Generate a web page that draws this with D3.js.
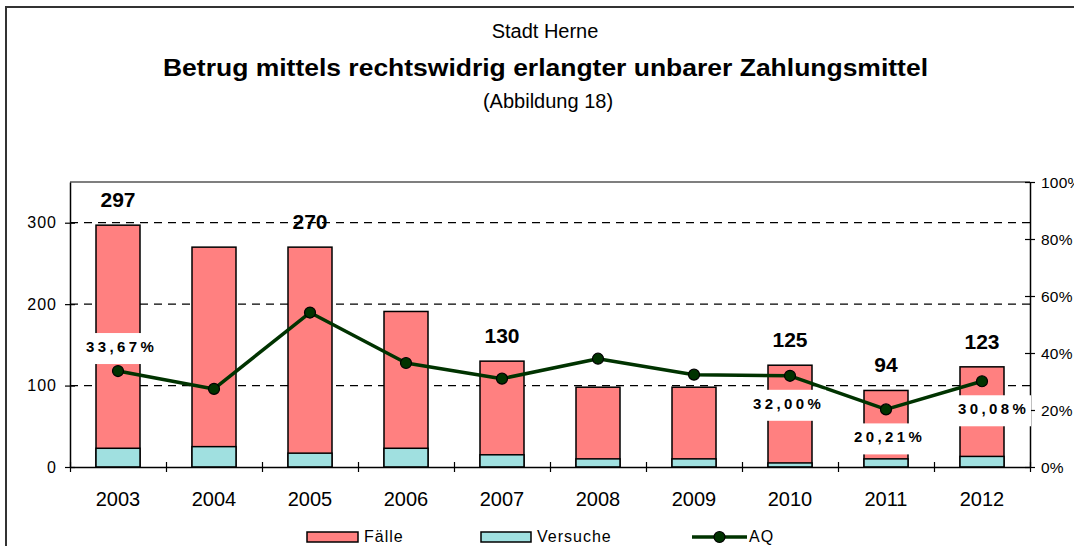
<!DOCTYPE html>
<html>
<head>
    <meta charset="utf-8">
    <title>Stadt Herne - Abbildung 18</title>
    <script src="https://d3js.org/d3.v7.min.js"></script>
    <style>
        body { margin: 0; background: #fff; }
        svg { display: block; font-family: "Liberation Sans", Arial, sans-serif; }
    </style>
</head>
<body>
    <svg width="1074" height="546"></svg>
    <script>
        // Werte aus Abbildung 18
        const years = [2003, 2004, 2005, 2006, 2007, 2008, 2009, 2010, 2011, 2012];
        const faelle = [297, 270, 270, 191, 130, 98, 98, 125, 94, 123];
        const versuche = [23, 25, 17, 23, 15, 10, 10, 5, 10, 13];
        const aq = [33.67, 27.4, 54.2, 36.5, 31.0, 38.0, 32.4, 32.00, 20.21, 30.08];
        const faelleLabelYears = [2003, 2005, 2007, 2010, 2011, 2012];
        const aqLabelYears = [2003, 2010, 2011, 2012];
        const leftTicks = [0, 100, 200, 300];
        const rightTicks = [0, 20, 40, 60, 80, 100];

        const svg = d3.select("svg");
        const plot = { left: 70, right: 1030, top: 182, bottom: 467 };

        const x = d3.scaleBand().domain(years).range([plot.left, plot.right]).paddingInner(0).paddingOuter(0);
        const y = d3.scaleLinear().domain([0, 350]).range([plot.bottom, plot.top]);
        const yPct = d3.scaleLinear().domain([0, 100]).range([plot.bottom, plot.top]);
        const barW = 44;
        const cx = d => x(d) + x.bandwidth() / 2;

        // Rahmen (geht rechts und unten über das Bild hinaus)
        svg.append("rect").attr("x", 6).attr("y", 7).attr("width", 1100).attr("height", 600)
            .attr("fill", "none").attr("stroke", "#333").attr("stroke-width", 2);

        // Titel
        svg.append("text").attr("x", 545).attr("y", 38).attr("text-anchor", "middle")
            .attr("font-size", 20).text("Stadt Herne");
        svg.append("text").attr("x", 545.5).attr("y", 76).attr("text-anchor", "middle")
            .attr("font-size", 23).attr("font-weight", "bold")
            .attr("textLength", 765).attr("lengthAdjust", "spacingAndGlyphs")
            .text("Betrug mittels rechtswidrig erlangter unbarer Zahlungsmittel");
        svg.append("text").attr("x", 548).attr("y", 108).attr("text-anchor", "middle")
            .attr("font-size", 20).text("(Abbildung 18)");

        // Gitterlinien
        svg.append("g").selectAll("line")
            .data(leftTicks.filter(d => d > 0))
            .enter().append("line")
            .attr("x1", plot.left).attr("x2", plot.right)
            .attr("y1", d => y(d)).attr("y2", d => y(d))
            .attr("stroke", "#000").attr("stroke-width", 1.2).attr("stroke-dasharray", "8,6");

        // Balken: Fälle, darüber Versuche
        const bars = svg.append("g");
        bars.selectAll("rect.faelle")
            .data(years)
            .enter().append("rect")
            .attr("class", "faelle")
            .attr("x", d => cx(d) - barW / 2)
            .attr("width", barW)
            .attr("y", (d, i) => y(faelle[i]))
            .attr("height", (d, i) => y(0) - y(faelle[i]))
            .attr("fill", "#ff8080").attr("stroke", "#000").attr("stroke-width", 1.5);
        bars.selectAll("rect.versuche")
            .data(years)
            .enter().append("rect")
            .attr("class", "versuche")
            .attr("x", d => cx(d) - barW / 2)
            .attr("width", barW)
            .attr("y", (d, i) => y(versuche[i]))
            .attr("height", (d, i) => y(0) - y(versuche[i]))
            .attr("fill", "#a0e0e0").attr("stroke", "#000").attr("stroke-width", 1.5);

        // Plotrahmen oben
        svg.append("line").attr("x1", plot.left).attr("x2", plot.right)
            .attr("y1", plot.top).attr("y2", plot.top).attr("stroke", "#000").attr("stroke-width", 1.2);

        // Achsen
        const axisLeft = svg.append("g").attr("transform", `translate(${plot.left},0)`)
            .call(d3.axisLeft(y).tickValues(leftTicks).tickSize(5).tickSizeOuter(0));
        const axisRight = svg.append("g").attr("transform", `translate(${plot.right},0)`)
            .call(d3.axisRight(yPct).tickValues(rightTicks).tickSize(5).tickSizeOuter(0).tickFormat(d => d + "%"));
        const xTickScale = d3.scaleLinear().domain([0, years.length]).range([plot.left, plot.right]);
        const axisBottom = svg.append("g").attr("transform", `translate(0,${plot.bottom})`)
            .call(d3.axisBottom(xTickScale).ticks(years.length).tickSize(5).tickSizeOuter(0).tickFormat(""));

        [axisLeft, axisRight, axisBottom].forEach(g => {
            g.select(".domain").attr("stroke", "#000").attr("stroke-width", 1.5);
            g.selectAll(".tick line").attr("stroke", "#000").attr("stroke-width", 1.2);
        });
        axisLeft.selectAll(".tick line").attr("x1", 5);
        axisRight.selectAll(".tick line").attr("x1", -5);
        axisBottom.selectAll(".tick line").attr("y1", -5);

        axisLeft.selectAll(".tick text").attr("font-family", null).attr("font-size", 16)
            .attr("letter-spacing", 1).attr("fill", "#000").attr("x", -13).attr("dy", "0.33em");
        axisRight.selectAll(".tick text").attr("font-family", null).attr("font-size", 15.5)
            .attr("letter-spacing", 0.2).attr("fill", "#000").attr("x", 11).attr("dy", "0.33em");

        // Jahreszahlen
        svg.append("g").selectAll("text")
            .data(years)
            .enter().append("text")
            .attr("x", cx)
            .attr("y", 506)
            .attr("text-anchor", "middle").attr("font-size", 20)
            .text(d => d);

        // Werte über den Balken
        svg.append("g").selectAll("text")
            .data(faelleLabelYears)
            .enter().append("text")
            .attr("x", cx)
            .attr("y", d => y(faelle[years.indexOf(d)]) - 18)
            .attr("text-anchor", "middle").attr("font-size", 21).attr("font-weight", "bold")
            .text(d => faelle[years.indexOf(d)]);

        // Aufklärungsquote
        const line = d3.line().x((d, i) => cx(years[i])).y(d => yPct(d));
        svg.append("path").datum(aq)
            .attr("d", line).attr("fill", "none")
            .attr("stroke", "#003300").attr("stroke-width", 3.5).attr("stroke-linejoin", "round");

        // Beschriftung AQ mit weißem Hintergrund
        const fmt = v => v.toFixed(2).replace(".", ",") + "%";
        const labelShift = { 2003: 2, 2010: -3, 2011: 2, 2012: 10 };
        const aqLabels = svg.append("g").selectAll("g")
            .data(aqLabelYears)
            .enter().append("g")
            .attr("transform", d => {
                const i = years.indexOf(d);
                const ly = i === 0 ? yPct(aq[i]) - 19 : yPct(aq[i]) + 33;
                return `translate(${cx(d) + labelShift[d]},${ly})`;
            });
        aqLabels.append("rect").attr("x", -39).attr("y", -19).attr("width", 78).attr("height", 31).attr("fill", "#fff");
        aqLabels.append("text").attr("text-anchor", "middle").attr("font-size", 15).attr("font-weight", "bold")
            .attr("letter-spacing", 3.4).attr("dx", 1.7)
            .text(d => fmt(aq[years.indexOf(d)]));

        svg.append("g").selectAll("circle")
            .data(aq)
            .enter().append("circle")
            .attr("cx", (d, i) => cx(years[i]))
            .attr("cy", d => yPct(d))
            .attr("r", 5.5)
            .attr("fill", "#003300").attr("stroke", "#000").attr("stroke-width", 1.2);

        // Legende
        const legend = svg.append("g");
        legend.append("rect").attr("x", 307).attr("y", 532).attr("width", 51).attr("height", 10)
            .attr("fill", "#ff8080").attr("stroke", "#000").attr("stroke-width", 1.5);
        legend.append("text").attr("x", 364).attr("y", 542).attr("font-size", 16).attr("letter-spacing", 1).text("Fälle");
        legend.append("rect").attr("x", 481).attr("y", 532).attr("width", 50).attr("height", 10)
            .attr("fill", "#a0e0e0").attr("stroke", "#000").attr("stroke-width", 1.5);
        legend.append("text").attr("x", 537).attr("y", 542).attr("font-size", 16).attr("letter-spacing", 1).text("Versuche");
        legend.append("line").attr("x1", 692).attr("x2", 747).attr("y1", 537).attr("y2", 537)
            .attr("stroke", "#003300").attr("stroke-width", 3.5);
        legend.append("circle").attr("cx", 719.5).attr("cy", 537).attr("r", 5.5)
            .attr("fill", "#003300").attr("stroke", "#000").attr("stroke-width", 1.2);
        legend.append("text").attr("x", 749).attr("y", 542).attr("font-size", 16).attr("letter-spacing", 1).text("AQ");
    </script>
</body>
</html>
